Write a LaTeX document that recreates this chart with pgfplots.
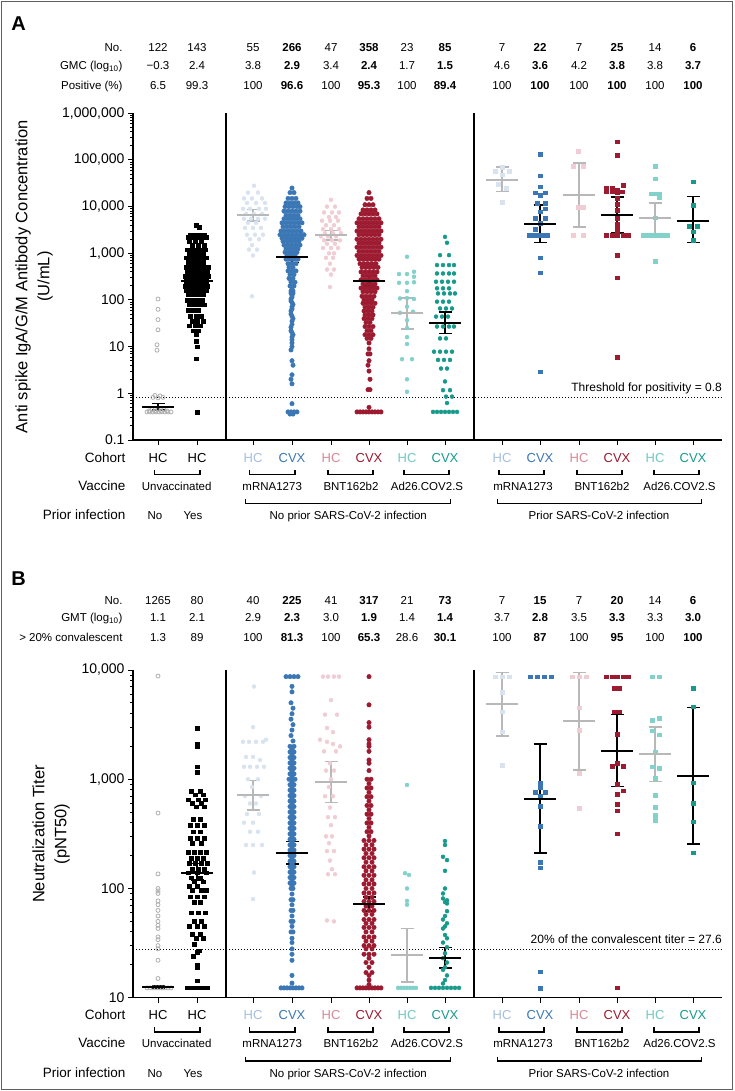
\documentclass[border=0pt]{standalone}
\usepackage{pgfplots}
\pgfplotsset{compat=1.18}
\usepackage{fontspec}
\setmainfont{Liberation Sans}
\definecolor{hcM}{HTML}{D9E3F0}
\definecolor{hcMt}{HTML}{A5BEDD}
\definecolor{cvM}{HTML}{3A77B4}
\definecolor{hcB}{HTML}{F0CDD4}
\definecolor{hcBt}{HTML}{D98894}
\definecolor{cvB}{HTML}{9D1B31}
\definecolor{hcA}{HTML}{82D1CA}
\definecolor{hcAt}{HTML}{6FC9C2}
\definecolor{cvA}{HTML}{179A8B}
\definecolor{gci}{HTML}{B8B8B8}
\definecolor{gpt}{HTML}{B0B0B0}
\definecolor{frm}{HTML}{5F5F5F}
\newcommand{\fs}[1]{\fontsize{#1}{#1}\selectfont}
\pgfplotsset{
 ptdots/.style={only marks, mark=*, mark size=2.0pt, color=#1},
 ptdense/.style={only marks, mark=*, mark size=2.25pt, color=#1},
 ptsqs/.style={only marks, mark=square*, mark size=1.8pt, color=#1},
 ptopn/.style={only marks, mark=o, mark size=2pt, color=#1, mark options={line width=0.8pt}},
 meanbars/.style={only marks, mark=-, mark size=16pt, color=#1, mark options={line width=2pt},
   error bars/y dir=both, error bars/y explicit, error bars/error bar style={line width=1.6pt, color=#1},
   error bars/error mark options={rotate=90, line width=1.6pt, mark size=6.5pt, color=#1}}
}
\newcommand{\rows}[1]{%
 \foreach \x/\lab/\col in {158/HC/black,197/HC/black,253/HC/hcMt,292/CVX/cvM,331/HC/hcBt,369/CVX/cvB,407/HC/hcAt,445/CVX/cvA,502/HC/hcMt,540/CVX/cvM,579/HC/hcBt,617/CVX/cvB,655/HC/hcAt,693/CVX/cvA}
   \node[anchor=base, font=\fs{13}, text=\col, inner sep=0pt] at (\x,{-#1-22}) {\lab};
 \node[anchor=base east, font=\fs{13.5}, inner sep=0pt] at (125.5,{-#1-22}) {Cohort};
 \node[anchor=base east, font=\fs{13.5}, inner sep=0pt] at (125.5,{-#1-50}) {Vaccine};
 \node[anchor=base east, font=\fs{13.5}, inner sep=0pt] at (125.5,{-#1-79.7}) {Prior infection};
 \foreach \a/\b in {154.5/200,249.5/295,328/373,404/449,499/544,577/622,654/699}
   \draw[line width=1.3pt] (\a,{-#1-29.5}) -- (\a,{-#1-34.3}) -- (\b,{-#1-34.3}) -- (\b,{-#1-29.5});
 \foreach \a/\b in {245.8/450.8,497.7/701.3}
   \draw[line width=1.3pt] (\a,{-#1-59.2}) -- (\a,{-#1-63.3}) -- (\b,{-#1-63.3}) -- (\b,{-#1-59.2});
 \foreach \x/\lab in {176.7/Unvaccinated,272.2/mRNA1273,351/BNT162b2,427/Ad26.COV2.S,523/mRNA1273,602/BNT162b2,679.5/Ad26.COV2.S}
   \node[anchor=base, font=\fs{11.5}, inner sep=0pt] at (\x,{-#1-50}) {\lab};
 \foreach \x/\lab in {155/No,193/Yes,348.3/No prior SARS-CoV-2 infection,599/Prior SARS-CoV-2 infection}
   \node[anchor=base, font=\fs{11.5}, inner sep=0pt] at (\x,{-#1-79.7}) {\lab};
}
\begin{document}
\begin{tikzpicture}
\draw[line width=1.2pt, frm] (1.5pt,-1.5pt) rectangle (732.5pt,-1089.5pt);
\begin{scope}[x=1pt,y=1pt]
\node[anchor=base, font=\fs{20}\bfseries, inner sep=0pt] at (18.5,-31) {A};
\foreach \y/\lab in {51.4/No.,69.8/GMC (log\textsubscript{10}),89.8/Positive (\%)}
  \node[anchor=base east, font=\fs{11.5}, inner sep=0pt] at (122.7,-\y) {\lab};
\foreach \x/\lab in {158/122,197/143,253/55,292/\textbf{266},331/47,369/\textbf{358},407/23,445/\textbf{85},502/7,540/\textbf{22},579/7,617/\textbf{25},655/14,693/\textbf{6}}
  \node[anchor=base, font=\fs{11.5}, inner sep=0pt] at (\x,-51.4) {\lab};
\foreach \x/\lab in {158/−0.3,197/2.4,253/3.8,292/\textbf{2.9},331/3.4,369/\textbf{2.4},407/1.7,445/\textbf{1.5},502/4.6,540/\textbf{3.6},579/4.2,617/\textbf{3.8},655/3.8,693/\textbf{3.7}}
  \node[anchor=base, font=\fs{11.5}, inner sep=0pt] at (\x,-69.8) {\lab};
\foreach \x/\lab in {158/6.5,197/99.3,253/100,292/\textbf{96.6},331/100,369/\textbf{95.3},407/100,445/\textbf{89.4},502/100,540/\textbf{100},579/100,617/\textbf{100},655/100,693/\textbf{100}}
  \node[anchor=base, font=\fs{11.5}, inner sep=0pt] at (\x,-89.8) {\lab};
\node[rotate=90, align=center, font=\fontsize{16.5}{22}\selectfont, inner sep=0pt] at (34,-276.7) {Anti spike IgA/G/M Antibody Concentration\\(U/mL)};
\node[anchor=base east, font=\fs{12}, inner sep=0pt] at (722,-391.3) {Threshold for positivity = 0.8};
\rows{440}
\node[anchor=base, font=\fs{20}\bfseries, inner sep=0pt] at (18.5,-585) {B};
\foreach \y/\lab in {604.1/No.,621.4/GMT (log\textsubscript{10}),641.4/> 20\% convalescent}
  \node[anchor=base east, font=\fs{11.5}, inner sep=0pt] at (122.7,-\y) {\lab};
\foreach \x/\lab in {158/1265,197/80,253/40,292/\textbf{225},331/41,369/\textbf{317},407/21,445/\textbf{73},502/7,540/\textbf{15},579/7,617/\textbf{20},655/14,693/\textbf{6}}
  \node[anchor=base, font=\fs{11.5}, inner sep=0pt] at (\x,-604.1) {\lab};
\foreach \x/\lab in {158/1.1,197/2.1,253/2.9,292/\textbf{2.3},331/3.0,369/\textbf{1.9},407/1.4,445/\textbf{1.4},502/3.7,540/\textbf{2.8},579/3.5,617/\textbf{3.3},655/3.3,693/\textbf{3.0}}
  \node[anchor=base, font=\fs{11.5}, inner sep=0pt] at (\x,-621.4) {\lab};
\foreach \x/\lab in {158/1.3,197/89,253/100,292/\textbf{81.3},331/100,369/\textbf{65.3},407/28.6,445/\textbf{30.1},502/100,540/\textbf{87},579/100,617/\textbf{95},655/100,693/\textbf{100}}
  \node[anchor=base, font=\fs{11.5}, inner sep=0pt] at (\x,-641.4) {\lab};
\node[rotate=90, align=center, font=\fontsize{16.5}{22}\selectfont, inner sep=0pt] at (51,-834) {Neutralization Titer\\(pNT50)};
\node[anchor=base east, font=\fs{12}, inner sep=0pt] at (722,-943.6) {20\% of the convalescent titer = 27.6};
\rows{997.7}
\end{scope}

% ================= PANEL A axis =================
\begin{axis}[at={(133pt,-440pt)}, anchor=south west, scale only axis, width=589pt, height=326.7pt,
  xmin=133, xmax=722, ymode=log, ymin=0.1, ymax=1000000,
  axis x line=bottom, axis y line=left, axis line style={-, line width=1.2pt},
  xtick={158,197,253,292,331,369,407,445,502,540,579,617,655,693}, xticklabels={},
  tick align=outside, major tick length=5pt, minor tick length=3pt,
  tick style={black, line width=1pt}, yticklabel style={font=\fs{14}}, clip=false,
  ytick={0.1,1,10,100,1000,10000,100000,1000000},
  yticklabels={0.1,1,10,100,{1,000},{10,000},{100,000},{1,000,000}},
  minor ytick={0.2,0.3,0.4,0.5,0.6,0.7,0.8,0.9,2,3,4,5,6,7,8,9,20,30,40,50,60,70,80,90,200,300,400,500,600,700,800,900,2000,3000,4000,5000,6000,7000,8000,9000,20000,30000,40000,50000,60000,70000,80000,90000,200000,300000,400000,500000,600000,700000,800000,900000}]
\draw[line width=1.3pt] (axis cs:226,0.1) -- (axis cs:226,1000000);
\draw[line width=1.3pt] (axis cs:474,0.1) -- (axis cs:474,1000000);
\addplot[black, line width=1pt, dash pattern=on 1pt off 2pt] coordinates {(133,0.8) (722,0.8)};
\addplot[ptopn=gpt] coordinates {(158,105)(158,63)(158,38)(158,23)(157,11)(157,8.4)(155,0.9)(160,0.88)(153,0.82)(163,0.82)(158,0.8)(147,0.4)(150,0.4)(153,0.4)(156,0.4)(159,0.4)(162,0.4)(165,0.4)(168,0.4)(171,0.4)(149,0.42)(155,0.42)(161,0.42)(167,0.42)(152,0.45)(158,0.45)(164,0.45)};
\addplot[ptsqs=black] coordinates {(196,4000)(199,3600)(190,2500)(194,2500)(199,2500)(204,2500)(188,2200)(193,2200)(197,2200)(202,2200)(206,2200)(189,1800)(195,1800)(201,1800)(192,1500)(198,1500)(204,1500)(187,1200)(191,1200)(196,1200)(200,1200)(205,1200)(189,1000)(194,1000)(199,1000)(203,1000)(186,800)(191,800)(196,800)(201,800)(206,800)(188,650)(193,650)(198,650)(203,650)(186,500)(190,500)(195,500)(200,500)(204,500)(208,500)(187,400)(192,400)(197,400)(202,400)(207,400)(185,320)(190,320)(194,320)(199,320)(203,320)(208,320)(186,250)(191,250)(196,250)(201,250)(206,250)(185,200)(189,200)(194,200)(198,200)(203,200)(207,200)(186,160)(191,160)(196,160)(201,160)(206,160)(188,130)(193,130)(198,130)(203,130)(187,100)(192,100)(197,100)(202,100)(189,80)(194,80)(199,80)(204,80)(188,60)(193,60)(198,60)(190,45)(196,45)(201,45)(192,35)(197,35)(203,35)(189,28)(195,28)(200,28)(193,22)(198,22)(196,18)(196,13)(197,10)(196,5.5)(197,0.4)};
\addplot[ptdots=hcM] coordinates {(254,28000)(248,20000)(258,20000)(244,15000)(252,15000)(262,15000)(247,12000)(256,12000)(265,12000)(243,9000)(250,9000)(259,9000)(266,9000)(246,7000)(254,7000)(262,7000)(244,5500)(251,5500)(258,5500)(265,5500)(248,4500)(256,4500)(245,3500)(253,3500)(261,3500)(247,2500)(255,2500)(263,2500)(250,2000)(259,2000)(252,1500)(249,1200)(257,1200)(253,900)(252,120)};
\addplot[ptdense=cvM] coordinates {(292,25000)(290,20000)(294,20000)(288,15000)(292,15000)(296,15000)(286,12000)(290,12000)(294,12000)(298,12000)(285,10000)(289,10000)(293,10000)(297,10000)(300,10000)(284,8000)(288,8000)(292,8000)(296,8000)(300,8000)(286,6500)(290,6500)(294,6500)(298,6500)(284,5500)(288,5500)(292,5500)(296,5500)(300,5500)(282,4500)(286,4500)(290,4500)(294,4500)(298,4500)(302,4500)(283,3700)(287,3700)(291,3700)(295,3700)(299,3700)(281,3000)(285,3000)(289,3000)(293,3000)(297,3000)(301,3000)(280,2500)(284,2500)(288,2500)(292,2500)(296,2500)(300,2500)(304,2500)(282,2100)(286,2100)(290,2100)(294,2100)(298,2100)(302,2100)(283,1800)(287,1800)(291,1800)(295,1800)(299,1800)(284,1500)(288,1500)(292,1500)(296,1500)(300,1500)(286,1250)(290,1250)(294,1250)(298,1250)(285,1050)(289,1050)(293,1050)(297,1050)(287,900)(291,900)(295,900)(286,750)(290,750)(294,750)(298,750)(288,600)(292,600)(296,600)(289,500)(293,500)(288,420)(292,420)(296,420)(290,350)(294,350)(289,290)(293,290)(291,260)(291,240)(295,240)(290,200)(294,200)(292,185)(292,170)(291,155)(293,155)(291,140)(293,140)(292,125)(292,115)(291,105)(291,95)(292,88)(293,80)(292,72)(292,65)(291,58)(291,50)(292,45)(293,40)(292,35)(292,30)(291,26)(291,22)(292,20)(293,18)(292,16)(292,14)(292,12)(292,10)(291,8.5)(292,5)(293,4)(292,2.5)(291,2)(292,1.6)(292,0.6)(288,0.4)(291,0.4)(294,0.4)(297,0.4)(290,0.36)(293,0.36)};
\addplot[ptdots=hcB] coordinates {(331,14000)(327,10000)(335,10000)(324,7500)(332,7500)(339,7500)(329,6000)(336,6000)(322,5000)(330,5000)(338,5000)(326,4000)(334,4000)(323,3300)(331,3300)(339,3300)(325,2700)(333,2700)(341,2700)(321,2300)(328,2300)(336,2300)(324,1900)(332,1900)(340,1900)(327,1600)(335,1600)(323,1300)(331,1300)(338,1300)(329,1000)(334,1000)(326,800)(333,800)(330,600)(327,450)(334,450)(331,350)(330,190)};
\addplot[ptdense=cvB] coordinates {(369,20000)(367,15000)(371,15000)(365,11000)(369,11000)(373,11000)(363,8500)(367,8500)(371,8500)(375,8500)(361,7000)(365,7000)(369,7000)(373,7000)(377,7000)(359,5500)(363,5500)(367,5500)(371,5500)(375,5500)(379,5500)(357,4500)(361,4500)(365,4500)(369,4500)(373,4500)(377,4500)(381,4500)(359,3700)(363,3700)(367,3700)(371,3700)(375,3700)(379,3700)(357,3000)(361,3000)(365,3000)(369,3000)(373,3000)(377,3000)(381,3000)(359,2500)(363,2500)(367,2500)(371,2500)(375,2500)(379,2500)(357,2000)(361,2000)(365,2000)(369,2000)(373,2000)(377,2000)(381,2000)(359,1650)(363,1650)(367,1650)(371,1650)(375,1650)(379,1650)(357,1350)(361,1350)(365,1350)(369,1350)(373,1350)(377,1350)(381,1350)(359,1100)(363,1100)(367,1100)(371,1100)(375,1100)(379,1100)(357,900)(361,900)(365,900)(369,900)(373,900)(377,900)(381,900)(359,750)(363,750)(367,750)(371,750)(375,750)(379,750)(360,600)(364,600)(368,600)(372,600)(376,600)(362,500)(366,500)(370,500)(374,500)(378,500)(361,400)(365,400)(369,400)(373,400)(377,400)(363,330)(367,330)(371,330)(375,330)(361,270)(365,270)(369,270)(373,270)(377,270)(363,220)(367,220)(371,220)(375,220)(361,180)(365,180)(369,180)(373,180)(377,180)(363,150)(367,150)(371,150)(375,150)(362,120)(366,120)(370,120)(374,120)(364,100)(368,100)(372,100)(363,85)(367,85)(371,85)(375,85)(365,70)(369,70)(373,70)(364,58)(368,58)(372,58)(365,48)(369,48)(373,48)(364,40)(368,40)(372,40)(366,33)(370,33)(365,27)(369,27)(373,27)(367,22)(371,22)(365,18)(369,18)(373,18)(367,15)(371,15)(369,12)(369,9)(368,7)(370,7)(369,5)(368,4)(369,3)(370,2)(368,1.2)(370,1.2)(369,0.5)(357,0.4)(360,0.4)(363,0.4)(366,0.4)(369,0.4)(372,0.4)(375,0.4)(378,0.4)(381,0.4)};
\addplot[ptdots=hcA] coordinates {(407,842)(399,359)(407,359)(414,402)(414,314)(399,233)(407,233)(414,240)(407,155)(400,108)(407,110)(414,105)(407,72)(400,53)(413,56)(407,37)(407,25)(407,16)(407,11.4)(402,5.4)(412,5.4)(407,2.0)(407,1.08)};
\addplot[ptdots=cvA] coordinates {(445,2250)(447,1680)(440,915)(449,915)(437,560)(443,560)(449,560)(454,560)(437,370)(443,370)(449,370)(454,370)(436,246)(442,246)(448,246)(454,246)(437,178)(443,178)(449,178)(438,138)(444,138)(450,138)(455,138)(437,92)(443,92)(449,92)(440,66)(446,66)(452,66)(436,44)(442,44)(448,44)(437,27)(443,27)(449,27)(454,27)(440,15)(446,15)(434,7.8)(440,7.8)(446,7.8)(452,7.8)(438,5.2)(444,5.2)(450,5.2)(441,3.4)(447,3.4)(445,1.8)(443,1.17)(450,1.17)(446,0.85)(452,0.85)(447,0.62)(433,0.4)(437,0.4)(441,0.4)(445,0.4)(449,0.4)(453,0.4)(457,0.4)};
\addplot[ptsqs=hcM] coordinates {(502,70000)(495,58000)(509,58000)(502,48000)(498,30000)(506,25000)(502,12600)};
\addplot[ptsqs=cvM] coordinates {(540,131000)(540,45600)(540,26500)(535,20000)(545,20000)(540,17600)(537,11700)(545,11700)(540,7750)(535,5580)(545,5580)(540,4360)(529,2450)(533,2450)(537,2450)(542,2450)(547,2450)(540,800)(540,382)(540,2.9)(535,3300)(545,9000)};
\addplot[ptsqs=hcB] coordinates {(578,155000)(573,74000)(583,74000)(578,9600)(583,9600)(573,2450)(583,2450)};
\addplot[ptsqs=cvB] coordinates {(617,245000)(617,127000)(606,25000)(612,25000)(617,23000)(623,29000)(606,21000)(612,21000)(617,20000)(622,21000)(617,15000)(617,11300)(617,8400)(617,5600)(617,4200)(617,3240)(617,2760)(606,2450)(612,2450)(617,2450)(623,2450)(628,2450)(617,915)(617,300)(617,6)};
\addplot[ptsqs=hcA] coordinates {(655,74000)(655,40000)(651,19000)(655,19000)(659,19000)(659,16000)(655,5760)(643,2450)(647,2450)(651,2450)(655,2450)(659,2450)(663,2450)(667,2450)(655,680)};
\addplot[ptsqs=cvA] coordinates {(693,34000)(693,10800)(689,3800)(697,3800)(693,2900)(693,1900)};
\addplot[meanbars=gci] coordinates {(253,6600) += (0,2100) -= (0,1630) (331,2450) += (0,650) -= (0,500) (407,52) += (0,58) -= (0,28) (502,38000) += (0,33000) -= (0,17000) (579,17800) += (0,67200) -= (0,14100) (655,5600) += (0,6400) -= (0,3100)};
\addplot[meanbars=black] coordinates {(158,0.5) += (0,0.1) -= (0,0.06) (197,250) += (0,50) -= (0,40) (292,840) += (0,260) -= (0,200) (369,254) += (0,76) -= (0,54) (445,32) += (0,24) -= (0,13) (540,4300) += (0,6400) -= (0,2600) (617,6600) += (0,9400) -= (0,3850) (693,5000) += (0,11500) -= (0,3300)};
\end{axis}

% ================= PANEL B axis =================
\begin{axis}[at={(133pt,-997.7pt)}, anchor=south west, scale only axis, width=589pt, height=327.7pt,
  xmin=133, xmax=722, ymode=log, ymin=10, ymax=10000,
  axis x line=bottom, axis y line=left, axis line style={-, line width=1.2pt},
  xtick={158,197,253,292,331,369,407,445,502,540,579,617,655,693}, xticklabels={},
  tick align=outside, major tick length=5pt, minor tick length=3pt,
  tick style={black, line width=1pt}, yticklabel style={font=\fs{14}}, clip=false,
  ytick={10,100,1000,10000},
  yticklabels={10,100,{1,000},{10,000}},
  minor ytick={20,30,40,50,60,70,80,90,200,300,400,500,600,700,800,900,2000,3000,4000,5000,6000,7000,8000,9000}]
\draw[line width=1.3pt] (axis cs:226,10) -- (axis cs:226,10000);
\draw[line width=1.3pt] (axis cs:474,10) -- (axis cs:474,10000);
\addplot[black, line width=1pt, dash pattern=on 1pt off 2pt] coordinates {(133,27.6) (722,27.6)};
\addplot[ptopn=gpt] coordinates {(158,8800)(158,490)(158,136)(158,100)(158,95)(158,90)(158,77)(158,71)(158,63)(158,56)(158,50)(158,46)(158,43)(158,36)(158,34)(158,30)(158,28)(158,22)(158,15)(147,12.3)(150,12.3)(153,12.3)(156,12.3)(159,12.3)(162,12.3)(165,12.3)(168,12.3)(171,12.3)};
\addplot[ptsqs=black] coordinates {(197,2950)(197,2100)(197,2000)(197,1300)(197,1160)(191,780)(200,780)(195,720)(203,720)(188,650)(198,650)(205,650)(192,600)(201,600)(196,560)(204,560)(193,430)(200,430)(190,380)(197,380)(204,380)(193,330)(200,330)(190,290)(197,290)(204,290)(192,260)(201,260)(188,215)(194,215)(200,215)(206,215)(191,190)(197,190)(203,190)(189,170)(195,170)(201,170)(207,170)(192,150)(198,150)(204,150)(188,140)(197,140)(206,140)(191,125)(200,125)(194,115)(203,115)(189,105)(197,105)(192,97)(201,97)(206,97)(190,84)(197,84)(204,84)(194,75)(200,75)(191,60)(198,60)(205,60)(194,50)(201,50)(189,45)(197,45)(204,45)(192,38)(200,38)(196,35)(203,35)(194,31)(199,27)(193,24)(197,20)(197,26)(197,19)(197,14.3)(187,12.3)(191,12.3)(195,12.3)(199,12.3)(203,12.3)(207,12.3)};
\addplot[ptdots=hcM] coordinates {(254,7050)(253,3000)(243,2200)(249,2200)(256,2200)(263,2200)(266,2300)(246,1600)(253,1600)(260,1500)(244,1300)(250,1300)(257,1300)(264,1300)(248,1000)(258,1000)(252,850)(245,700)(261,700)(250,600)(256,600)(247,480)(259,480)(253,400)(244,400)(250,330)(258,330)(246,250)(253,250)(262,250)(254,140)(253,80)};
\addplot[ptdense=cvM] coordinates {(286,8700)(290,8700)(294,8700)(298,8700)(292,7080)(292,6310)(291,5010)(293,4470)(292,3980)(291,3550)(293,3160)(292,2820)(291,2510)(293,2240)(290,2000)(294,2000)(292,1880)(290,1780)(294,1780)(292,1680)(290,1580)(294,1580)(292,1500)(290,1410)(294,1410)(292,1330)(290,1260)(294,1260)(292,1190)(290,1120)(294,1120)(292,1060)(289,1000)(292,1000)(295,1000)(292,944)(290,891)(294,891)(292,841)(290,794)(294,794)(292,750)(290,708)(294,708)(292,668)(290,631)(294,631)(292,596)(290,562)(294,562)(292,531)(290,501)(294,501)(292,473)(290,447)(294,447)(292,422)(290,398)(294,398)(292,376)(290,355)(294,355)(292,335)(290,316)(294,316)(292,299)(290,282)(294,282)(292,266)(290,251)(294,251)(292,237)(290,224)(294,224)(292,211)(290,200)(294,200)(292,188)(290,178)(294,178)(292,168)(290,158)(294,158)(292,150)(290,141)(294,141)(292,133)(290,126)(294,126)(292,119)(290,112)(294,112)(292,106)(291,100)(293,100)(292,89)(291,79)(293,79)(292,71)(291,63)(293,63)(292,56)(291,50)(293,50)(292,45)(291,40)(293,40)(292,35)(292,32)(292,28)(292,25)(292,22)(292,16)(292,13.6)(281,12.3)(284,12.3)(287,12.3)(290,12.3)(293,12.3)(296,12.3)(299,12.3)(302,12.3)};
\addplot[ptdots=hcB] coordinates {(323,8700)(328,8700)(334,8700)(339,8700)(331,5300)(325,3900)(337,3900)(327,2950)(333,2700)(320,2300)(327,2200)(333,2100)(340,2000)(324,1800)(336,1800)(330,1400)(326,1200)(334,1200)(331,1000)(329,850)(333,700)(325,700)(330,550)(328,450)(335,450)(331,380)(326,300)(332,300)(329,260)(334,220)(327,220)(330,180)(332,150)(328,135)(335,135)(327,51)(334,50)};
\addplot[ptdense=cvB] coordinates {(369,8700)(369,4800)(369,3300)(369,3000)(369,2300)(369,2100)(369,2000)(369,1800)(369,1500)(369,1400)(369,1200)(367,1000)(371,1000)(369,912)(367,832)(371,832)(369,759)(367,692)(371,692)(369,631)(367,575)(371,575)(369,525)(367,479)(371,479)(369,437)(367,398)(371,398)(369,363)(367,331)(371,331)(369,302)(364,275)(369,275)(374,275)(366,251)(372,251)(364,229)(369,229)(374,229)(366,209)(372,209)(364,191)(369,191)(374,191)(366,174)(372,174)(364,158)(369,158)(374,158)(366,145)(372,145)(364,132)(369,132)(374,132)(366,120)(372,120)(364,110)(369,110)(374,110)(366,100)(372,100)(364,91)(369,91)(374,91)(366,83)(372,83)(364,76)(369,76)(374,76)(366,69)(372,69)(364,63)(369,63)(374,63)(366,58)(372,58)(364,52)(369,52)(374,52)(366,48)(372,48)(364,44)(369,44)(374,44)(366,40)(372,40)(364,36)(369,36)(374,36)(366,33)(372,33)(364,30)(369,30)(374,30)(366,28)(372,28)(364,25)(369,25)(374,25)(369,23)(366,21)(372,21)(369,19)(366,17)(372,17)(369,16)(369,14.5)(369,13.2)(357,12.3)(360,12.3)(363,12.3)(366,12.3)(369,12.3)(372,12.3)(375,12.3)(378,12.3)(381,12.3)};
\addplot[ptdots=hcA] coordinates {(407,887)(405,138)(409,133)(407,100)(407,77)(407,71)(398,12.3)(401,12.3)(404,12.3)(407,12.3)(410,12.3)(413,12.3)(416,12.3)};
\addplot[ptdots=cvA] coordinates {(445,272)(445,250)(443,195)(447,182)(445,145)(445,100)(443,90)(443,81)(447,78)(445,75)(447,73)(447,62)(445,56)(443,52)(447,48)(445,45)(443,43)(445,37.5)(447,35)(443,32)(447,29)(445,25.5)(443,23)(447,21)(445,19)(443,18)(447,16)(445,14.5)(443,13.5)(431,12.3)(435,12.3)(439,12.3)(443,12.3)(447,12.3)(451,12.3)(455,12.3)(459,12.3)};
\addplot[ptsqs=hcM] coordinates {(495,8700)(502,8700)(509,8700)(502,6300)(502,4160)(502,2730)(502,1350)};
\addplot[ptsqs=cvM] coordinates {(530,8700)(537,8700)(544,8700)(551,8700)(540,930)(540,850)(535,760)(545,760)(540,700)(540,570)(540,370)(540,175)(540,155)(540,17.3)(540,12.2)};
\addplot[ptsqs=hcB] coordinates {(572,8700)(579,8700)(586,8700)(579,4500)(579,2800)(579,1130)(579,540)};
\addplot[ptsqs=cvB] coordinates {(606,8700)(612,8700)(617,8700)(623,8700)(628,8700)(614,6800)(619,6800)(614,4160)(619,4160)(617,2580)(612,1320)(617,1400)(623,1320)(617,906)(623,787)(617,733)(617,594)(617,516)(617,316)(617,12.3)};
\addplot[ptsqs=hcA] coordinates {(652,8700)(659,8700)(652,3490)(659,3640)(652,2790)(659,2550)(655,1790)(652,1300)(659,1260)(655,1020)(655,718)(655,555)(655,471)(655,424)};
\addplot[ptsqs=cvA] coordinates {(693,6800)(693,4620)(693,930)(693,600)(693,410)(693,213)};
\addplot[meanbars=gci] coordinates {(253,718) += (0,252) -= (0,198) (331,950) += (0,500) -= (0,340) (407,24.6) += (0,18.4) -= (0,10.6) (502,4900) += (0,4550) -= (0,2400) (579,3400) += (0,6050) -= (0,2180) (655,1700) += (0,1300) -= (0,750)};
\addplot[meanbars=black] coordinates {(158,12.6) += (0,0.3) -= (0,0.3) (197,140) += (0,30) -= (0,20) (292,213) += (0,57) -= (0,46) (369,72) += (0,12) -= (0,10) (445,23) += (0,5.7) -= (0,4.4) (540,660) += (0,1440) -= (0,450) (617,1820) += (0,2080) -= (0,960) (693,1070) += (0,3460) -= (0,815)};
\end{axis}

\pgfresetboundingbox
\path[use as bounding box] (0pt,0pt) rectangle (734pt,-1091pt);
\end{tikzpicture}
\end{document}
